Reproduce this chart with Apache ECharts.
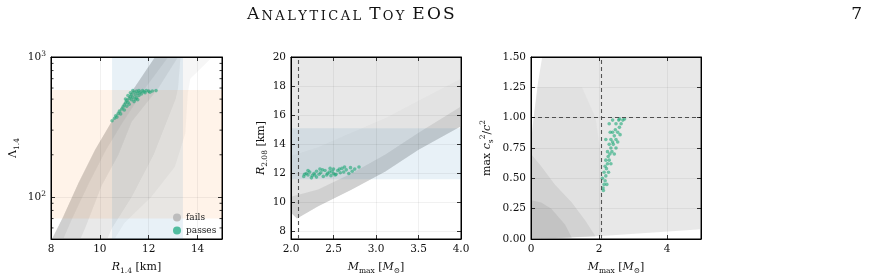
<!DOCTYPE html>
<html>
<head>
<meta charset="utf-8">
<script src="https://cdn.jsdelivr.net/npm/echarts@6/dist/echarts.min.js"></script>
<style>
  html, body { margin: 0; padding: 0; background: #fff; }
  #chart { width: 871px; height: 280px; }
</style>
</head>
<body>
<div id="chart"></div>
<script>
// ---- data ----
// panel 1: R_1.4 [km] vs Lambda_1.4 (outline of the "fails" cloud, layered by density)
const cloud1Outer = [[8.04, 50], [8.5, 72], [9.12, 125], [9.8, 216], [10.48, 344], [11.44, 612], [12.26, 1000],
  [14.6, 1000], [14.2, 850], [13.7, 700], [13.6, 550], [13.5, 285], [13.07, 164], [12.1, 100], [11.0, 65], [10.6, 50]];
const cloud1Mid = [[8.04, 50], [8.5, 72], [9.12, 125], [9.8, 216], [10.48, 344], [11.44, 612], [12.26, 1000],
  [13.3, 1000], [13.2, 600], [13.1, 500], [12.2, 200], [11.3, 100], [10.5, 60], [10.3, 50]];
const cloud1Core = [[8.04, 50], [8.5, 72], [9.12, 125], [9.8, 216], [10.48, 344], [11.44, 612], [12.26, 1000],
  [13.2, 1000], [12.4, 600], [11.3, 344], [10.76, 200], [10.07, 120], [9.4, 60], [9.2, 50]];
const cloud1Edge = [[8.04, 50], [8.5, 72], [9.12, 125], [9.8, 216], [10.48, 344], [11.44, 612], [12.26, 1000],
  [12.8, 1000], [11.9, 612], [10.95, 344], [10.25, 216], [9.55, 125], [8.9, 72], [8.5, 50]];
const passes1 = [[10.5, 350], [10.6, 365], [10.65, 380], [10.7, 372], [10.75, 395], [10.8, 410], [10.85, 392],
  [10.9, 425], [10.95, 440], [11.0, 418], [11.0, 455], [11.05, 470], [11.1, 445], [11.1, 490], [11.15, 475],
  [11.2, 505], [11.2, 460], [11.25, 520], [11.3, 495], [11.3, 540], [11.35, 515], [11.4, 560], [11.4, 480],
  [11.45, 535], [11.5, 570], [11.5, 510], [11.55, 550], [11.6, 575], [11.6, 530], [11.65, 560], [11.7, 545],
  [11.75, 575], [11.8, 565], [11.85, 555], [11.9, 575], [12.0, 570], [12.05, 560], [12.15, 572], [12.3, 575],
  [11.25, 555], [11.45, 500], [11.35, 575], [11.55, 495], [11.15, 530], [11.05, 500]];
const lambdaBand = [8, 15, 70, 580];       // x0, x1, y0, y1
const radius14Band = [10.5, 13.4, 50, 1000];
const lambdaMinor = [60, 70, 80, 90, 200, 300, 400, 500, 600, 700, 800, 900];

// panel 2: M_max vs R_2.08
const cloud2Outer = [[2.0, 9.3], [2.07, 8.9], [2.32, 9.75], [2.71, 10.89], [3.11, 12.14], [3.5, 13.63], [4.0, 15.25],
  [4.0, 20], [2.0, 20]];
const cloud2Mid = [[2.0, 9.3], [2.07, 8.9], [2.32, 9.75], [2.71, 10.89], [3.11, 12.14], [3.5, 13.63], [4.0, 15.25],
  [4.0, 18.5], [3.5, 17.0], [3.11, 15.8], [2.71, 14.8], [2.32, 13.8], [2.0, 13.2]];
const cloud2Core = [[2.0, 9.3], [2.07, 8.9], [2.32, 9.75], [2.71, 10.89], [3.11, 12.14], [3.5, 13.63], [4.0, 15.25],
  [4.0, 16.6], [3.5, 14.8], [3.11, 13.3], [2.71, 12.0], [2.32, 10.9], [2.0, 10.4]];
const passes2 = [[2.15, 11.8], [2.18, 12.0], [2.2, 11.9], [2.22, 12.1], [2.25, 11.85], [2.27, 12.0], [2.3, 11.75],
  [2.3, 12.15], [2.33, 11.95], [2.35, 12.05], [2.38, 11.8], [2.4, 12.2], [2.42, 11.9], [2.45, 12.1], [2.47, 11.85],
  [2.5, 12.0], [2.5, 12.3], [2.53, 11.95], [2.55, 12.2], [2.58, 12.05], [2.6, 12.35], [2.62, 12.1], [2.65, 12.25],
  [2.68, 12.0], [2.7, 12.4], [2.75, 12.3], [2.8, 12.45], [2.2, 12.2], [2.28, 11.9], [2.37, 12.25], [2.43, 12.0],
  [2.48, 12.15], [2.52, 11.9], [2.57, 12.3], [2.63, 12.45], [2.72, 12.15], [2.16, 11.95], [2.24, 11.7],
  [2.34, 12.3], [2.46, 12.35]];
const radius208Band = [2, 4, 11.6, 15.1];
const massLimit = 2.08;

// panel 3: M_max vs max c_s^2/c^2
const cloud3Outer = [[0, 0], [2.08, 0.025], [5, 0.08], [5, 1.5], [0.33, 1.5], [0.2, 1.28], [0.08, 1.01], [0, 0.8]];
const cloud3Mid = [[0, 0], [2.08, 0.025], [2.1, 0.6], [1.9, 1.0], [1.5, 1.25], [0.2, 1.25], [0.08, 1.01], [0, 0.8]];
const cloud3Core = [[0, 0], [1.9, 0.02], [1.6, 0.15], [1.2, 0.3], [0.7, 0.45], [0.3, 0.6], [0, 0.7]];
const cloud3Dense = [[0, 0], [1.2, 0.01], [1.0, 0.12], [0.6, 0.25], [0.3, 0.3], [0, 0.32]];
const passes3 = [[2.12, 0.42], [2.15, 0.45], [2.1, 0.5], [2.18, 0.48], [2.15, 0.55], [2.2, 0.52], [2.18, 0.6],
  [2.22, 0.58], [2.25, 0.62], [2.2, 0.65], [2.27, 0.68], [2.3, 0.65], [2.25, 0.72], [2.32, 0.7], [2.35, 0.75],
  [2.3, 0.78], [2.38, 0.72], [2.4, 0.8], [2.35, 0.82], [2.42, 0.78], [2.45, 0.85], [2.4, 0.88], [2.5, 0.82],
  [2.48, 0.9], [2.55, 0.88], [2.5, 0.95], [2.6, 0.92], [2.58, 0.98], [2.65, 0.95], [2.7, 0.98], [2.75, 0.99],
  [2.3, 0.95], [2.4, 0.98], [2.2, 0.82], [2.45, 0.7], [2.28, 0.55], [2.35, 0.62], [2.5, 0.75], [2.55, 0.8],
  [2.62, 0.86], [2.13, 0.4], [2.23, 0.45], [2.6, 0.99], [2.33, 0.88]];
const causalLimit = 1.0;

// ---- styling ----
const F = 'DejaVu Serif';
const INK = '#111';
const GREEN = 'rgba(30,168,120,0.75)';
const BLUE = 'rgba(31,119,180,0.1)';
const ORANGE = 'rgba(255,127,14,0.09)';

const RICH = {
  r: { fontFamily: F, fontSize: 11, lineHeight: 16, verticalAlign: 'middle', color: INK },
  i: { fontFamily: F, fontStyle: 'italic', fontSize: 11, lineHeight: 16, verticalAlign: 'middle', color: INK },
  sub: { fontFamily: F, fontSize: 7.5, lineHeight: 8, verticalAlign: 'bottom', color: INK },
  sup: { fontFamily: F, fontSize: 7.5, lineHeight: 8, verticalAlign: 'top', color: INK },
  b: { fontFamily: F, fontSize: 10.5, lineHeight: 14, verticalAlign: 'middle', color: INK },
  e: { fontFamily: F, fontSize: 7.5, lineHeight: 7, verticalAlign: 'top', color: INK }
};

const box = { show: true, borderColor: '#000', borderWidth: 1, backgroundColor: 'transparent' };
const grids = [
  Object.assign({ left: 51, top: 57, width: 171, height: 183 }, box),
  Object.assign({ left: 291, top: 57, width: 170, height: 183 }, box),
  Object.assign({ left: 531, top: 57, width: 170, height: 183 }, box)
];

function tick() { return { show: true, inside: true, length: 4, lineStyle: { color: '#000', width: 0.8 } }; }
function frame() { return { show: true, onZero: false, lineStyle: { color: '#000', width: 1 } }; }
function split() { return { show: true, lineStyle: { color: 'rgba(0,0,0,0.07)', width: 0.8 } }; }
function label(extra) { return Object.assign({ fontFamily: F, fontSize: 10.5, color: INK, margin: 5 }, extra); }

function mainX(g, opts, name) {
  return Object.assign({
    gridIndex: g, type: 'value', position: 'bottom', z: 10, axisLine: frame(), axisTick: tick(), splitLine: split(),
    name: name, nameLocation: 'middle', nameGap: 20, nameTextStyle: { rich: RICH },
    axisLabel: label({ showMaxLabel: false })
  }, opts);
}
function mirrorX(g, opts) {
  return Object.assign({
    gridIndex: g, type: 'value', position: 'top', z: 10, axisLine: frame(), axisTick: tick(),
    splitLine: { show: false }, axisLabel: { show: false }
  }, opts);
}
function mainY(g, opts, name, gap) {
  return Object.assign({
    gridIndex: g, type: 'value', position: 'left', z: 10, axisLine: frame(), axisTick: tick(), splitLine: split(),
    name: name, nameLocation: 'middle', nameGap: gap, nameTextStyle: { rich: RICH },
    axisLabel: label({})
  }, opts);
}
function mirrorY(g, opts) {
  return Object.assign({
    gridIndex: g, type: 'value', position: 'right', z: 10, axisLine: frame(), axisTick: tick(),
    splitLine: { show: false }, axisLabel: { show: false }
  }, opts);
}

function polySeries(g, name, pts, fill) {
  return {
    type: 'custom', name: name, xAxisIndex: g, yAxisIndex: g, z: 1, silent: true, data: pts,
    itemStyle: { color: '#bdbdbd' },
    renderItem: function (params, api) {
      if (params.dataIndex !== 0) return null;
      return { type: 'polygon', shape: { points: pts.map(p => api.coord(p)) }, style: { fill: fill } };
    }
  };
}
function bandSeries(g, band, fill) {
  return {
    type: 'custom', xAxisIndex: g, yAxisIndex: g, z: 2, silent: true, data: [band],
    renderItem: function (params, api) {
      const a = api.coord([api.value(0), api.value(3)]);
      const b = api.coord([api.value(1), api.value(2)]);
      return { type: 'rect', shape: { x: a[0], y: a[1], width: b[0] - a[0], height: b[1] - a[1] }, style: { fill: fill } };
    }
  };
}
function passSeries(g, pts, lines) {
  const s = {
    type: 'scatter', name: 'passes', xAxisIndex: g, yAxisIndex: g, z: 3, data: pts,
    symbolSize: 3.6, itemStyle: { color: GREEN }
  };
  if (lines) {
    s.markLine = {
      silent: true, symbol: 'none', label: { show: false },
      lineStyle: { color: '#555', width: 1.1, type: [4, 3] }, data: lines
    };
  }
  return s;
}

const option = {
  animation: false,
  backgroundColor: '#fff',
  grid: grids,
  xAxis: [
    mainX(0, { min: 8, max: 15, interval: 2 }, '{i|R}{sub|1.4}{r| [km]}'),
    mainX(1, { min: 2, max: 4, interval: 0.5, axisLabel: label({ showMaxLabel: true, formatter: v => v.toFixed(1) }) },
      '{i|M}{sub|max}{r| [}{i|M}{sub|⊙}{r|]}'),
    mainX(2, { min: 0, max: 5, interval: 2 }, '{i|M}{sub|max}{r| [}{i|M}{sub|⊙}{r|]}'),
    mirrorX(0, { min: 8, max: 15, interval: 2 }),
    mirrorX(1, { min: 2, max: 4, interval: 0.5 }),
    mirrorX(2, { min: 0, max: 5, interval: 2 })
  ],
  yAxis: [
    mainY(0, {
      type: 'log', logBase: 10, min: 50, max: 1000,
      axisLabel: label({
        showMinLabel: false, rich: RICH,
        formatter: function (v) {
          const k = Math.log10(v);
          return Math.abs(k - Math.round(k)) < 1e-6 ? '{b|10}{e|' + Math.round(k) + '}' : '';
        }
      })
    }, '{r|Λ}{sub|1.4}', 30),
    mainY(1, { min: 7.5, max: 20, splitNumber: 6, axisLabel: label({ showMinLabel: false }) },
      '{i|R}{sub|2.08}{r| [km]}', 20),
    mainY(2, { min: 0, max: 1.5, interval: 0.25, axisLabel: label({ formatter: v => v.toFixed(2) }) },
      '{r|max}{i| c}{sub|s}{sup|2}{r|/}{i|c}{sup|2}', 36),
    mirrorY(0, { type: 'log', logBase: 10, min: 50, max: 1000 }),
    mirrorY(1, { min: 7.5, max: 20, splitNumber: 6 }),
    mirrorY(2, { min: 0, max: 1.5, interval: 0.25 })
  ],
  legend: {
    left: 168, top: 208, orient: 'vertical', itemGap: 4, itemWidth: 8, itemHeight: 8, icon: 'circle',
    textStyle: { fontFamily: F, fontSize: 9, color: '#222' },
    data: [
      { name: 'fails', itemStyle: { color: '#bdbdbd' } },
      { name: 'passes', itemStyle: { color: '#2bb08a' } }
    ]
  },
  graphic: [
    {
      type: 'text', left: 247, top: 6,
      style: {
        text: '{L|A}{s|N}{s|A}{s|L}{s|Y}{s|T}{s|I}{s|C}{s|A}{s|L}{L| T}{s|O}{s|Y}{L| E}{L|O}{L|S}',
        rich: {
          L: { fontFamily: F, fontSize: 17, lineHeight: 18, verticalAlign: 'bottom', padding: [0, 2.2, 0, 0], fill: '#111' },
          s: { fontFamily: F, fontSize: 13, lineHeight: 14, verticalAlign: 'bottom', padding: [0, 2.5, 0, 0], fill: '#111' }
        }
      }
    },
    { type: 'text', right: 9, top: 6, style: { text: '7', font: '17px "DejaVu Serif"', fill: '#111' } }
  ],
  series: [
    // panel 1
    polySeries(0, 'fails', cloud1Outer, 'rgba(140,140,140,0.08)'),
    polySeries(0, 'mid1', cloud1Mid, 'rgba(140,140,140,0.12)'),
    polySeries(0, 'core1', cloud1Core, 'rgba(140,140,140,0.15)'),
    polySeries(0, 'edge1', cloud1Edge, 'rgba(140,140,140,0.15)'),
    bandSeries(0, lambdaBand, ORANGE),
    bandSeries(0, radius14Band, BLUE),
    passSeries(0, passes1),
    {
      type: 'custom', xAxisIndex: 0, yAxisIndex: 0, z: 11, silent: true,
      data: lambdaMinor.map(v => [8, v]),
      renderItem: function (params, api) {
        const y = api.coord([8, api.value(1)])[1];
        const xl = api.coord([8, 100])[0];
        const xr = api.coord([15, 100])[0];
        const st = { stroke: '#000', lineWidth: 0.8 };
        return {
          type: 'group', children: [
            { type: 'line', shape: { x1: xl, y1: y, x2: xl + 2.5, y2: y }, style: st },
            { type: 'line', shape: { x1: xr - 2.5, y1: y, x2: xr, y2: y }, style: st }
          ]
        };
      }
    },
    // panel 2
    polySeries(1, 'fails', cloud2Outer, 'rgba(140,140,140,0.2)'),
    polySeries(1, 'mid2', cloud2Mid, 'rgba(140,140,140,0.05)'),
    polySeries(1, 'core2', cloud2Core, 'rgba(140,140,140,0.22)'),
    bandSeries(1, radius208Band, BLUE),
    passSeries(1, passes2, [{ xAxis: massLimit }]),
    // panel 3
    polySeries(2, 'fails', cloud3Outer, 'rgba(150,150,150,0.22)'),
    polySeries(2, 'mid3', cloud3Mid, 'rgba(150,150,150,0.08)'),
    polySeries(2, 'core3', cloud3Core, 'rgba(150,150,150,0.2)'),
    polySeries(2, 'dense3', cloud3Dense, 'rgba(150,150,150,0.25)'),
    passSeries(2, passes3, [{ xAxis: massLimit }, { yAxis: causalLimit }])
  ]
};

const chart = echarts.init(document.getElementById('chart'), null, { renderer: 'canvas' });
chart.setOption(option);
</script>
</body>
</html>
